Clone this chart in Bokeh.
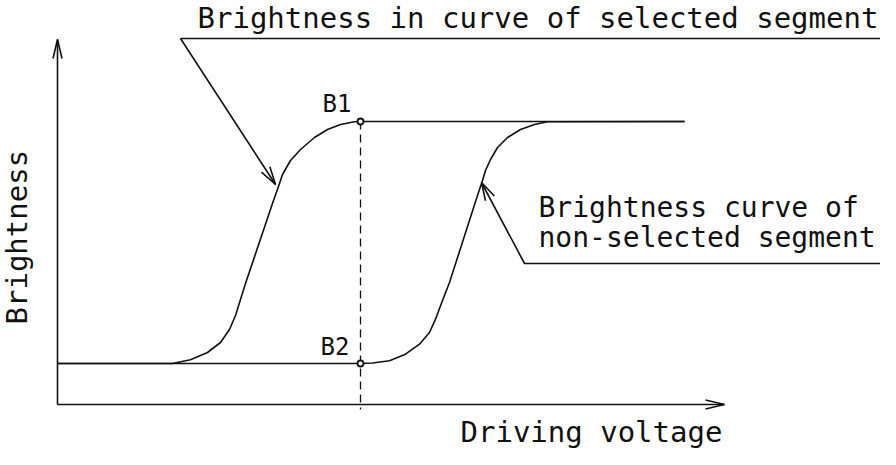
import math
from bokeh.plotting import figure
from bokeh.models import Range1d
from bokeh.core.properties import value
from bokeh.embed import file_html
from bokeh.resources import INLINE

# ---- data (arbitrary units: driving voltage, brightness) ----
sel_voltage = [0, 11.5, 13.3, 15.0, 16.3, 17.2, 17.8, 18.3, 18.8, 21.6, 22.1, 22.5, 23.3,
               24.3, 25.7, 27.0, 28.3, 29.7, 30.3, 62.7]
sel_brightness = [4.1, 4.1, 4.47, 5.2, 6.2, 7.5, 8.9, 10.5, 12.1, 20.4, 21.8, 23.0, 24.4,
                  25.5, 26.7, 27.5, 28.0, 28.27, 28.3, 28.3]

nonsel_voltage = [0, 30.3, 31.5, 33.2, 34.8, 36.2, 37.2, 37.8, 38.5, 39.2, 42.0, 42.5, 42.8,
                  43.3, 44.0, 45.0, 46.3, 47.7, 49.0, 62.7]
nonsel_brightness = [4.1, 4.1, 4.15, 4.37, 5.03, 6.03, 7.2, 8.53, 10.4, 12.2, 20.9, 22.4, 23.4,
                     24.5, 25.7, 26.7, 27.5, 28.0, 28.27, 28.3]

point_names = ["B1", "B2"]
point_voltage = [30.3, 30.3]
point_brightness = [28.3, 4.1]

title_sel = "Brightness in curve of selected segment"
title_nonsel = ["Brightness curve of", "non-selected segment"]
x_label = "Driving voltage"
y_label = "Brightness"

# ---- figure ----
PX = 10.0  # pixels per data unit (both axes)
p = figure(width=880, height=449, output_backend="svg", toolbar_location=None,
           x_range=Range1d(-5.7, 82.3), y_range=Range1d(-4.5, 40.4),
           x_axis_type=None, y_axis_type=None, min_border=0)
p.grid.visible = False
p.outline_line_color = None
p.background_fill_color = "white"
p.border_fill_color = "white"

FONT = value("DejaVu Sans Mono")
LW = 1.6
INK = "#111111"


def arrow_head(xt, yt, xf, yf, length=18, half=5):
    dx, dy = (xf - xt) * PX, (yf - yt) * PX
    d = math.hypot(dx, dy)
    ux, uy = dx / d, dy / d
    px_, py_ = -uy, ux
    b1 = (xt + (ux * length + px_ * half) / PX, yt + (uy * length + py_ * half) / PX)
    b2 = (xt + (ux * length - px_ * half) / PX, yt + (uy * length - py_ * half) / PX)
    p.line([b1[0], xt, b2[0]], [b1[1], yt, b2[1]], line_color=INK, line_width=LW)


def label(xs, ys, texts, size, angle=0.0):
    p.text(x=xs, y=ys, text=texts, text_font=FONT, text_font_size=size,
           text_baseline="middle", text_align="left", text_color=INK, angle=angle)


# axes
X_END, Y_END = 66.7, 36.5
p.line([0, X_END], [0, 0], line_color=INK, line_width=LW)
p.line([0, 0], [0, Y_END], line_color=INK, line_width=LW)
arrow_head(X_END, 0, 0, 0, length=19, half=4.5)
arrow_head(0, Y_END, 0, 0, length=19, half=4.5)

# curves
p.line(sel_voltage, sel_brightness, line_color=INK, line_width=LW, line_join="round")
p.line(nonsel_voltage, nonsel_brightness, line_color=INK, line_width=LW, line_join="round")

# dashed guide at B1/B2 voltage
p.line([point_voltage[0], point_voltage[0]], [point_brightness[0], -0.5],
       line_color=INK, line_width=1.3, line_dash="8 5")
p.scatter(point_voltage, point_brightness, size=6, marker="circle",
          fill_color="white", line_color=INK, line_width=1.8)

# point labels
label([26.5, 26.3], [30.1, 5.8], point_names, "24px")

# leader for selected-segment curve
p.line([82.9, 12.3, 21.8], [36.6, 36.6, 22.0], line_color=INK, line_width=LW)
arrow_head(21.8, 22.0, 12.3, 36.6, length=18, half=5)
label([14.0], [38.7], [title_sel], "29px")

# leader for non-selected-segment curve
p.line([83.1, 46.7, 42.4], [14.1, 14.1, 22.2], line_color=INK, line_width=LW)
arrow_head(42.4, 22.2, 46.7, 14.1, length=18, half=5)
label([48.1, 48.1], [19.7, 16.75], title_nonsel, "28px")

# axis titles
label([40.3], [-2.75], [x_label], "29px")
label([-4.05], [8.0], [y_label], "29px", angle=math.pi / 2)

open("out.html", "w").write(file_html(p, INLINE))
